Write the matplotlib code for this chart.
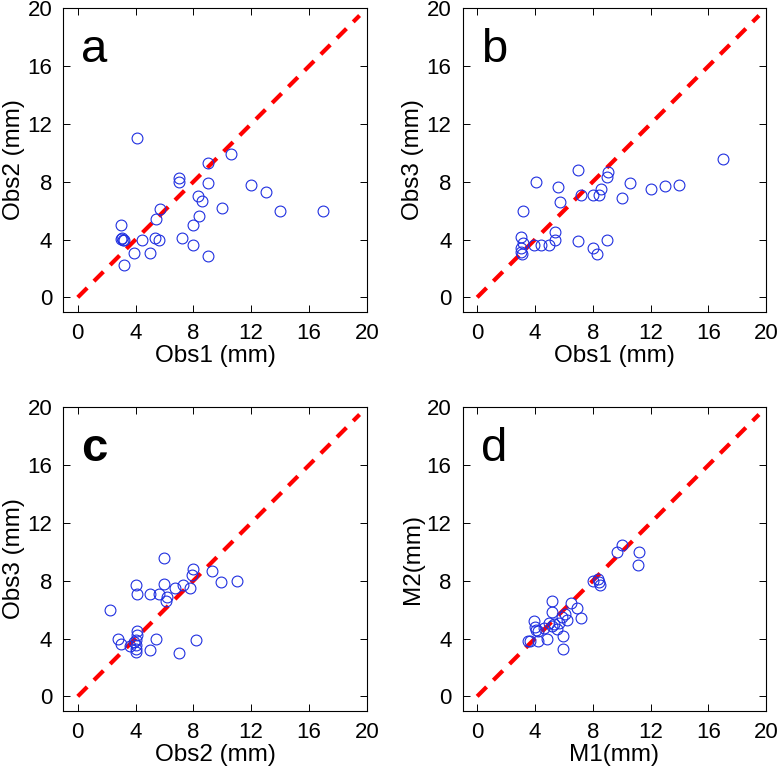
"""
Observer / model agreement - four scatter panels with identity line
"""

import matplotlib

matplotlib.use("Agg")
import matplotlib.pyplot as plt

# Panel a: Obs1 vs Obs2 (mm)
a_x = [4.1, 10.6, 9.0, 7.0, 7.0, 9.0, 12.0, 13.0, 8.3, 8.6, 5.7, 10.0, 14.0, 17.0,
       5.4, 8.4, 3.0, 8.0, 3.0, 3.1, 3.2, 3.05, 4.45, 5.37, 5.65, 7.2, 3.9, 5.0,
       8.0, 9.0, 3.2]
a_y = [11.0, 9.9, 9.3, 8.25, 8.0, 7.9, 7.8, 7.3, 7.0, 6.7, 6.1, 6.2, 6.0, 6.0,
       5.45, 5.65, 5.0, 5.0, 4.05, 4.0, 4.0, 4.1, 4.0, 4.13, 4.0, 4.1, 3.05, 3.05,
       3.6, 2.85, 2.25]

# Panel b: Obs1 vs Obs3 (mm)
b_x = [17.0, 7.0, 9.05, 9.0, 4.1, 10.6, 5.6, 14.0, 13.0, 12.0, 8.6, 7.2, 8.0,
       8.4, 10.0, 5.7, 3.2, 5.4, 5.4, 3.0, 7.0, 9.0, 3.2, 3.9, 4.4, 5.0, 3.0,
       3.0, 3.1, 8.0, 8.3]
b_y = [9.6, 8.8, 8.7, 8.36, 8.0, 7.9, 7.65, 7.8, 7.7, 7.5, 7.5, 7.1, 7.07,
       7.05, 6.9, 6.6, 6.0, 4.5, 4.0, 4.2, 3.9, 4.0, 3.74, 3.6, 3.6, 3.6, 3.44,
       3.16, 3.03, 3.4, 3.0]

# Panel c: Obs2 vs Obs3 (mm)
c_x = [6.0, 8.0, 9.3, 7.9, 11.0, 9.9, 4.0, 6.0, 7.3, 7.8, 6.7, 4.1, 5.0, 5.6,
       6.2, 6.1, 2.2, 4.1, 4.1, 2.8, 5.4, 8.2, 4.0, 3.0, 3.6, 4.0, 4.0, 4.0,
       5.0, 7.0, 3.9]
c_y = [9.6, 8.8, 8.7, 8.4, 8.0, 7.9, 7.7, 7.8, 7.7, 7.5, 7.5, 7.1, 7.1, 7.1,
       6.9, 6.6, 6.0, 4.5, 4.27, 4.0, 4.0, 3.9, 3.93, 3.6, 3.45, 3.53, 3.3, 3.05,
       3.2, 3.0, 3.74]

# Panel d: M1 vs M2 (mm)
d_x = [10.0, 9.65, 11.2, 11.1, 8.0, 8.36, 8.43, 8.5, 5.2, 6.5, 5.2, 6.9, 6.1,
       5.85, 7.2, 6.2, 3.9, 5.0, 5.65, 4.0, 5.15, 4.6, 4.05, 5.5, 4.2, 5.95,
       4.8, 3.55, 3.67, 4.2, 5.95, 5.35]
d_y = [10.5, 10.0, 10.0, 9.1, 8.0, 8.13, 7.9, 7.7, 6.6, 6.45, 5.85, 6.1, 5.7,
       5.5, 5.4, 5.3, 5.2, 5.1, 5.08, 4.8, 4.85, 4.73, 4.6, 4.67, 4.5, 4.2,
       4.0, 3.85, 3.83, 3.83, 3.25, 5.0]

panels = [
    ("a", a_x, a_y, "Obs1 (mm)", "Obs2 (mm)", "normal"),
    ("b", b_x, b_y, "Obs1 (mm)", "Obs3 (mm)", "normal"),
    ("c", c_x, c_y, "Obs2 (mm)", "Obs3 (mm)", "bold"),
    ("d", d_x, d_y, "M1(mm)", "M2(mm)", "normal"),
]

TICKS = [0, 4, 8, 12, 16, 20]
DIAG = [0, 19.5]  # 1:1 reference line
W, H = 780, 770

plt.rcParams["font.family"] = ["Liberation Sans", "DejaVu Sans"]

fig = plt.figure(figsize=(W / 100, H / 100), dpi=100)

# axes boxes in pixels: left, top
boxes = [(63.3, 8.3), (462.7, 8.3), (63.3, 407.3), (462.7, 407.3)]
size = 303.5

for (letter, xs, ys, xlab, ylab, weight), (left, top) in zip(panels, boxes):
    ax = fig.add_axes([left / W, (H - top - size) / H, size / W, size / H])

    ax.plot(DIAG, DIAG, color="red", linewidth=3,
            dashes=(3.2, 2.3), zorder=1)
    ax.plot(xs, ys, "o", markerfacecolor="none", markeredgecolor="#1f2fe0",
            markersize=7.8, markeredgewidth=0.8, zorder=2)

    ax.set_xlim(-1, 20)
    ax.set_ylim(-1, 20)
    ax.set_xticks(TICKS)
    ax.set_yticks(TICKS)
    ax.tick_params(direction="in", length=5, width=0.7, top=True, right=True,
                   labelsize=16, pad=8)
    for s in ax.spines.values():
        s.set_linewidth(0.8)

    ax.set_xlabel(xlab, fontsize=17.5, labelpad=1)
    ax.set_ylabel(ylab, fontsize=17.5, labelpad=2)
    ax.text(0.25, 16.3, letter, fontsize=34, fontweight=weight,
            ha="left", va="baseline")

fig.savefig("out.png", dpi=100)
